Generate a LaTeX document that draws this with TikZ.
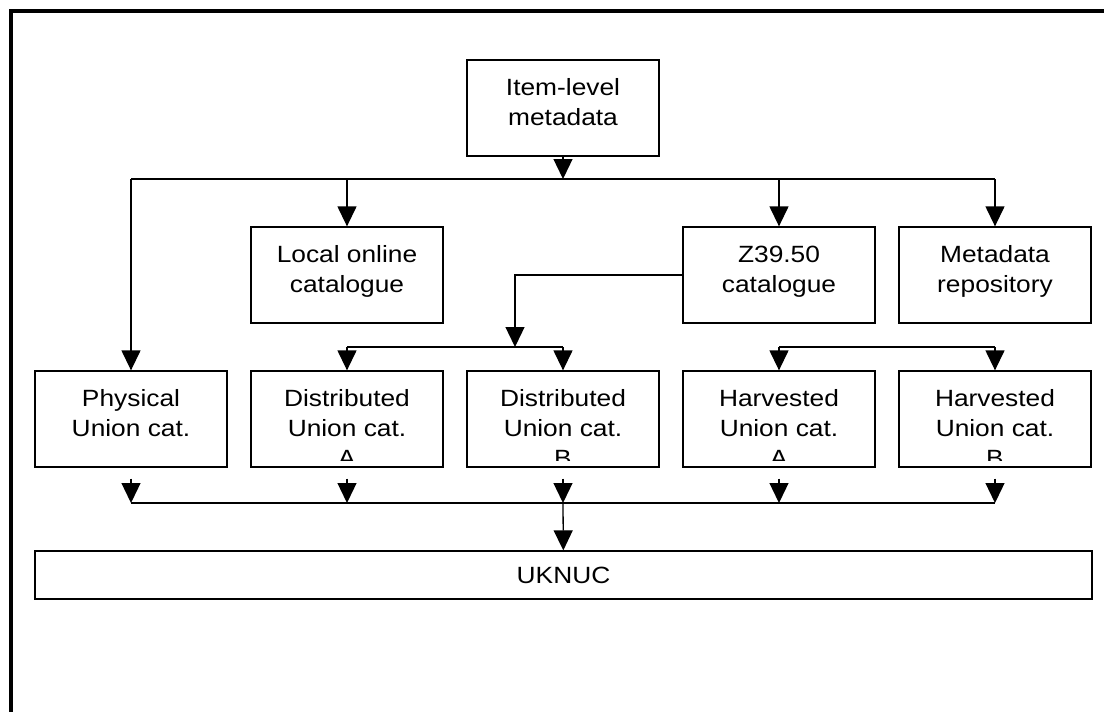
\documentclass[tikz,border=0pt]{standalone}
\usepackage{fontspec}
\setmainfont{Liberation Sans}[FakeStretch=1.12]
\usetikzlibrary{arrows.meta, calc}
\tikzset{
  catbox/.style={draw, line width=1.3pt, minimum width=192pt, minimum height=96pt, inner sep=0pt},
  boxtext/.style={align=center, inner sep=0pt, font=\fontsize{23.5}{30}\selectfont},
  link/.style={line width=1.3pt, -{Triangle[length=20pt,width=19pt]}},
  bus/.style={line width=1.3pt}
}
\newcommand{\catnode}[4]{%
  \node[catbox] (#1) at (#2,#3) {};
  \begin{scope}
    \clip ($(#1.south west)+(0,-7)$) rectangle (#1.north east);
    \node[boxtext, anchor=north] at ($(#1.north)+(0,15.7)$) {\rule{0pt}{20pt}#4};
  \end{scope}}

\begin{document}
\begin{tikzpicture}[x=1pt, y=-1pt]
  \useasboundingbox (0,0) rectangle (1104,712);
  \draw[line width=4pt] (11,712) -- (11,11) -- (1104,11);
  \catnode{item}{563}{108}{Item-level\\metadata}
  \catnode{local}{347}{275}{Local online\\catalogue}
  \catnode{zcat}{779}{275}{Z39.50\\catalogue}
  \catnode{repo}{995}{275}{Metadata\\repository}
  \catnode{phys}{131}{419}{Physical\\Union cat.}
  \catnode{distA}{347}{419}{Distributed\\Union cat.\\A}
  \catnode{distB}{563}{419}{Distributed\\Union cat.\\B}
  \catnode{harvA}{779}{419}{Harvested\\Union cat.\\A}
  \catnode{harvB}{995}{419}{Harvested\\Union cat.\\B}
  \node[draw, line width=1.3pt, minimum width=1057pt, minimum height=48pt, boxtext] (uknuc) at (563.5,575) {UKNUC};
  \coordinate (bus1) at (563,179);
  \coordinate (dbus) at (515,347);
  \coordinate (bbus) at (563,503);
  \draw[link] (item) -- (bus1);
  \draw[bus] (phys |- bus1) -- (repo |- bus1);
  \foreach \n in {phys, local, zcat, repo}
    \draw[link] (\n |- bus1) -- (\n);
  \draw[link] (zcat.west) -| (dbus);
  \draw[bus] (distA |- dbus) -- (distB |- dbus);
  \draw[bus] (harvA |- dbus) -- (harvB |- dbus);
  \foreach \n in {distA, distB, harvA, harvB}
    \draw[link] (\n |- dbus) -- (\n);
  \foreach \n in {phys, distA, distB, harvA, harvB}
    \draw[link, shorten <=11pt] (\n) -- (\n |- bbus);
  \draw[bus] (phys |- bbus) -- (harvB |- bbus);
  \draw[link] (bbus) -- (uknuc);
\end{tikzpicture}
\end{document}
